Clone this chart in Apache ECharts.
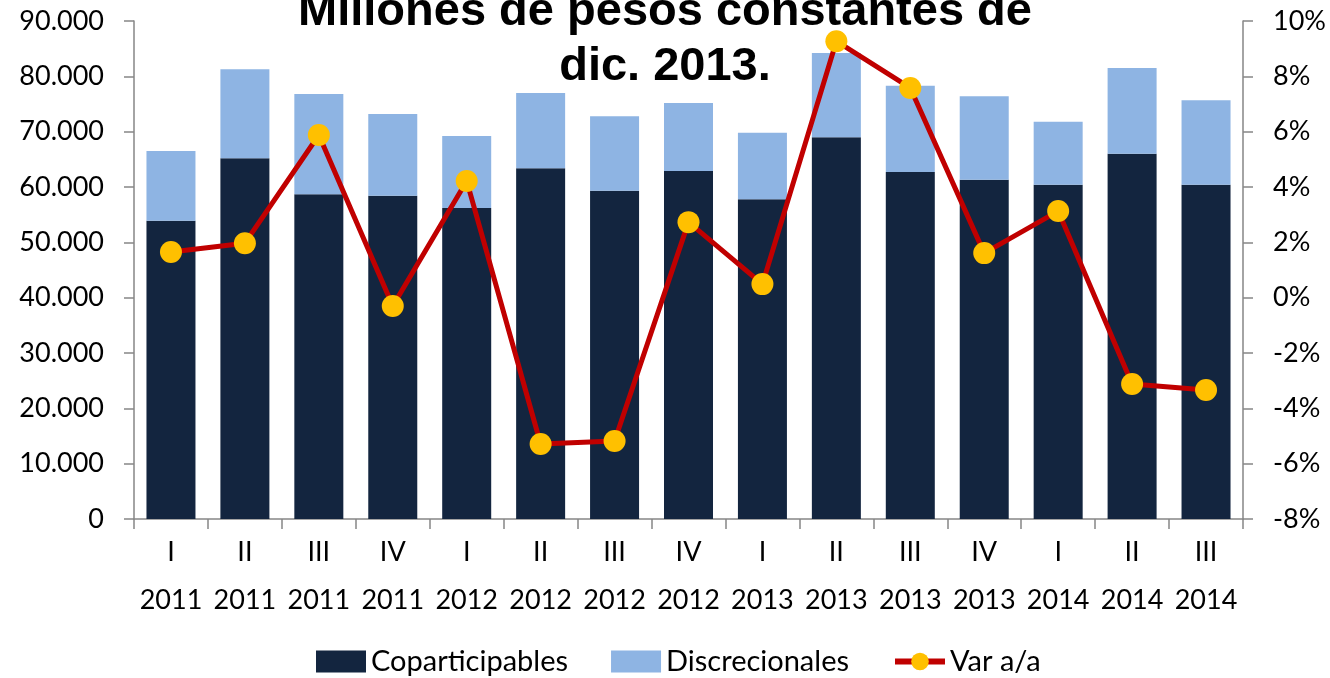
<!DOCTYPE html>
<html>
<head>
<meta charset="utf-8">
<script src="https://cdn.jsdelivr.net/npm/echarts@6/dist/echarts.min.js"></script>
<style>
    html, body { margin: 0; padding: 0; background: #fff; }
    #chart { width: 1330px; height: 678px; }
</style>
</head>
<body>
<div id="chart"></div>
<script>
// trimestres y años del eje x
const quarters = ['I', 'II', 'III', 'IV', 'I', 'II', 'III', 'IV', 'I', 'II', 'III', 'IV', 'I', 'II', 'III'];
const years = ['2011', '2011', '2011', '2011', '2012', '2012', '2012', '2012', '2013', '2013', '2013', '2013', '2014', '2014', '2014'];

// millones de pesos
const coparticipables = [53900, 65200, 58700, 58400, 56200, 63400, 59300, 62900, 57800, 69000, 62700, 61300, 60400, 66000, 60400];
const discrecionales = [12600, 16100, 18100, 14800, 13000, 13600, 13500, 12300, 12000, 15200, 15600, 15100, 11400, 15500, 15300];

// variación interanual (%)
const varAA = [1.65, 1.97, 5.88, -0.30, 4.22, -5.29, -5.18, 2.73, 0.49, 9.27, 7.58, 1.61, 3.13, -3.12, -3.34];

const categories = quarters.map((q, i) => q + '\n' + years[i]);

const chart = echarts.init(document.getElementById('chart'));
const font = 'Lato';
const axisColor = '#868686';

const option = {
    animation: false,
    title: {
        text: 'Millones de pesos constantes de\ndic. 2013.',
        left: 'center',
        top: -15,
        padding: 0,
        z: 10,
        textStyle: {
            fontFamily: 'Liberation Sans',
            fontWeight: 'bold',
            fontSize: 47,
            lineHeight: 55,
            color: '#000'
        }
    },
    grid: { left: 134, right: 87, top: 21, bottom: 159, containLabel: false },
    legend: {
        top: 642,
        left: 311,
        itemWidth: 50,
        itemHeight: 22,
        itemGap: 43,
        textStyle: { fontFamily: font, fontSize: 29, color: '#000' },
        data: [
            { name: 'Coparticipables', icon: 'rect' },
            { name: 'Discrecionales', icon: 'rect' },
            { name: 'Var a/a', lineStyle: { width: 6 } }
        ]
    },
    xAxis: {
        type: 'category',
        data: categories,
        axisLine: { lineStyle: { color: axisColor, width: 1.5 } },
        axisTick: { show: true, length: 10, lineStyle: { color: axisColor, width: 1.5 } },
        axisLabel: {
            fontFamily: font,
            fontSize: 27,
            lineHeight: 48,
            margin: 9,
            color: '#000',
            interval: 0
        }
    },
    yAxis: [
        {
            type: 'value',
            min: 0,
            max: 90000,
            interval: 10000,
            splitLine: { show: false },
            axisLine: { show: true, lineStyle: { color: axisColor, width: 1.5 } },
            axisTick: { show: true, length: 10, lineStyle: { color: axisColor, width: 1.5 } },
            axisLabel: {
                fontFamily: font,
                fontSize: 27,
                margin: 30,
                color: '#000',
                formatter: v => v === 0 ? '0' : v.toLocaleString('de-DE')
            }
        },
        {
            type: 'value',
            min: -8,
            max: 10,
            interval: 2,
            splitLine: { show: false },
            axisLine: { show: true, lineStyle: { color: axisColor, width: 1.5 } },
            axisTick: { show: true, length: 10, lineStyle: { color: axisColor, width: 1.5 } },
            axisLabel: {
                fontFamily: font,
                fontSize: 27,
                margin: 30,
                color: '#000',
                formatter: '{value}%'
            }
        }
    ],
    series: [
        {
            name: 'Coparticipables',
            type: 'bar',
            stack: 'total',
            barWidth: 49,
            itemStyle: { color: '#13253F' },
            data: coparticipables
        },
        {
            name: 'Discrecionales',
            type: 'bar',
            stack: 'total',
            barWidth: 49,
            itemStyle: { color: '#8EB4E3' },
            data: discrecionales
        },
        {
            name: 'Var a/a',
            type: 'line',
            yAxisIndex: 1,
            symbol: 'circle',
            symbolSize: 22,
            z: 5,
            lineStyle: { color: '#C00000', width: 5 },
            itemStyle: { color: '#FFC000' },
            data: varAA
        }
    ]
};

chart.setOption(option);
</script>
</body>
</html>
